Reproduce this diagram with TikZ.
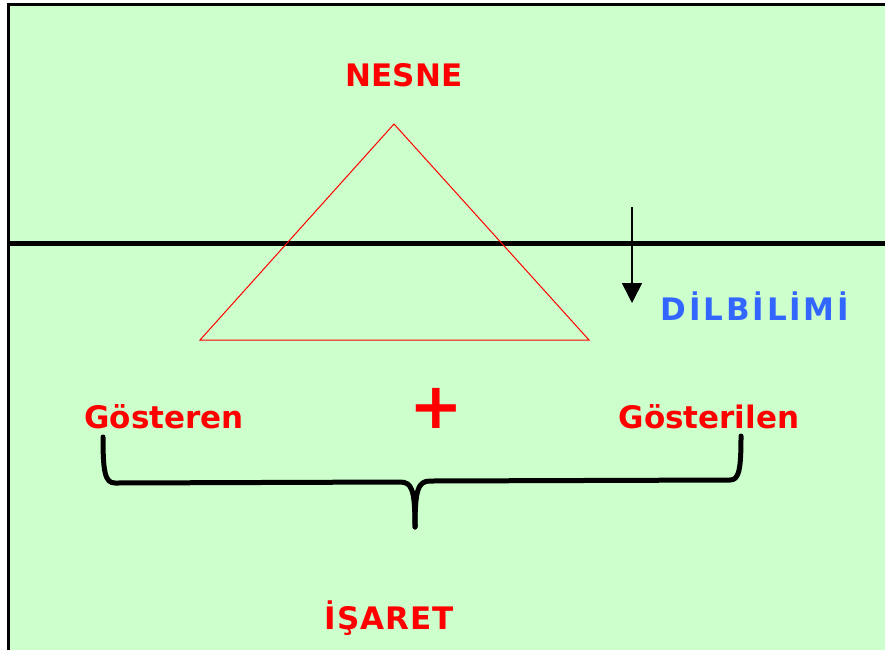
\documentclass[tikz,border=0pt]{standalone}
\usepackage{fontspec}
\setmainfont{DejaVu Sans}
\usetikzlibrary{arrows.meta}
\definecolor{bggreen}{HTML}{CCFFCC}
\definecolor{txtred}{HTML}{FF0000}
\definecolor{txtblue}{HTML}{3366FF}
\tikzset{
  lbl/.style={font=\bfseries\fontsize{31}{36}\selectfont, text=txtred, inner sep=0pt},
  bluelbl/.style={lbl, text=txtblue},
  brace/.style={line width=5pt, black, line cap=round, line join=round},
  tri/.style={draw=txtred, line width=1pt},
}
\begin{document}
\begin{tikzpicture}[x=1pt,y=-1pt]
\useasboundingbox (0,0) rectangle (885,649);
\fill[white] (0,0) rectangle (885,649);
\filldraw[fill=bggreen, draw=black, line width=3pt] (8,4) rectangle (895,660);
% horizontal line
\coordinate (hl) at (8,243);
\coordinate (hr) at (885,243);
\draw[line width=5pt] (hl) -- (hr);
% triangle
\coordinate (apex) at (394,124);
\coordinate (bl) at (200,340);
\coordinate (br) at (589,340);
\draw[tri] (apex) -- (bl) -- (br) -- cycle;
% labels
\node[lbl] (nesne) at (404,75) {NESNE};
\node[bluelbl] (dil) at (755,306) {\addfontfeature{LetterSpace=9}DİLBİLİMİ};
\node[lbl] (gosteren) at (164,417) {Gösteren};
\node[lbl, font=\bfseries\fontsize{64}{70}\selectfont] (plus) at (436,408) {+};
\node[lbl] (gosterilen) at (709,417) {Gösterilen};
\node[lbl] (isaret) at (389,618) {\addfontfeature{LetterSpace=3}İŞARET};
% arrow
\coordinate (atop) at (632,207);
\coordinate (abot) at (632,303);
\draw[line width=1.5pt, -{Triangle[length=20pt,width=20pt]}] (atop) -- (abot);
% brace
\coordinate (bL) at (103,437);
\coordinate (bM) at (415,527);
\coordinate (bR) at (741,436);
\draw[brace] (bL) .. controls (103,472) and (105,483) .. (115,483) -- (400,482) .. controls (412,482) and (415,490) .. (bM);
\draw[brace] (bM) .. controls (415,490) and (418,481) .. (430,481) -- (730,480) .. controls (739,480) and (741,470) .. (bR);
\end{tikzpicture}
\end{document}
